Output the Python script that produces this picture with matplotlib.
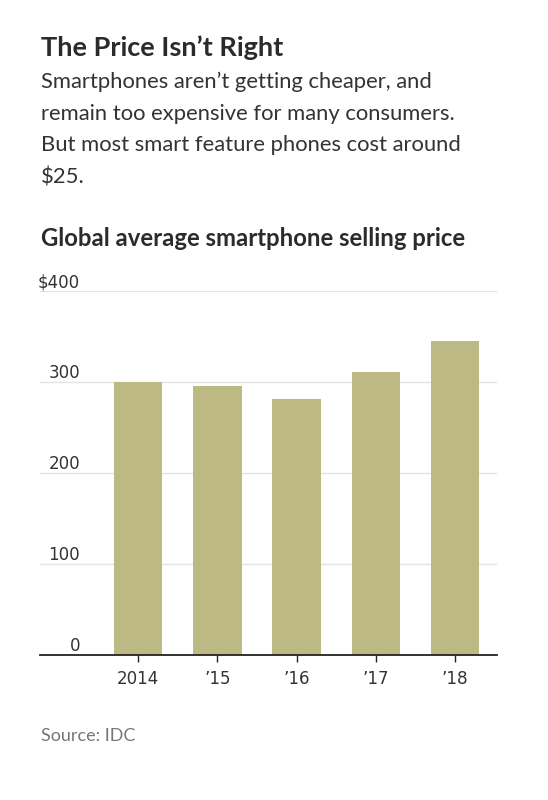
import matplotlib
matplotlib.use("Agg")
import matplotlib.pyplot as plt
import matplotlib.transforms as mtransforms

years = ["2014", "\u201915", "\u201916", "\u201917", "\u201918"]
prices = [300, 295, 281, 311, 345]
yticks = [0, 100, 200, 300, 400]
ytick_labels = ["0", "100", "200", "300", "$400"]

title = "The Price Isn\u2019t Right"
subtitle_lines = ["Smartphones aren\u2019t getting cheaper, and",
                  "remain too expensive for many consumers.",
                  "But most smart feature phones cost around",
                  "$25."]
chart_title = "Global average smartphone selling price"
source = "Source: IDC"

main_font = "Lato"
tick_font = dict(family="DejaVu Sans", fontstretch="condensed", fontsize=13.3, color="#333333")

W, H = 548, 800
fig = plt.figure(figsize=(W / 100, H / 100), dpi=100)
fig.patch.set_facecolor("white")

def fx(px):
    return px / W

def fy(py):
    return 1 - py / H

ax = fig.add_axes([fx(40), fy(654.7), fx(497 - 40), (654.7 - 291) / H])
x = list(range(len(years)))
ax.bar(x, prices, width=0.61, color="#bdb985", zorder=2)
ax.set_xlim(-1.24, 4.53)
ax.set_ylim(0, 400)

for s in ["top", "right", "left"]:
    ax.spines[s].set_visible(False)
ax.spines["bottom"].set_color("#222222")
ax.spines["bottom"].set_linewidth(1.3)
ax.spines["bottom"].set_zorder(3)

ax.set_yticks(yticks)
ax.set_yticklabels([])
ax.tick_params(axis="y", length=0)
for t in yticks[1:]:
    ax.axhline(t, color="#e3e3e3", lw=1.0, zorder=1)

trans = mtransforms.blended_transform_factory(fig.transFigure, ax.transData)
offset = mtransforms.ScaledTranslation(0, 4 / 100, fig.dpi_scale_trans)
for t, lab in zip(yticks, ytick_labels):
    ax.text(fx(80), t, lab, transform=trans + offset, ha="right", va="baseline", **tick_font)

ax.set_xticks(x)
ax.set_xticklabels(years)
for lbl in ax.get_xticklabels():
    lbl.set_fontfamily("DejaVu Sans")
    lbl.set_fontstretch("condensed")
    lbl.set_fontsize(13.3)
    lbl.set_color("#333333")
ax.tick_params(axis="x", length=5, width=1, color="#222222", pad=6)

fig.text(fx(41), fy(56), title, fontsize=19.5, fontweight="bold", color="#2b2b2b",
         family=[main_font, "DejaVu Sans"], va="baseline")
for i, line in enumerate(subtitle_lines):
    fig.text(fx(41), fy(88 + 31.7 * i), line, fontsize=15.8, color="#333333",
             family=[main_font, "DejaVu Sans"], va="baseline")
fig.text(fx(41), fy(246), chart_title, fontsize=17.2, fontweight="bold", color="#2b2b2b",
         family=[main_font, "DejaVu Sans"], va="baseline")
fig.text(fx(41), fy(741), source, fontsize=13, color="#777777",
         family=[main_font, "DejaVu Sans"], va="baseline")

fig.savefig("out.png", dpi=100, facecolor="white")
